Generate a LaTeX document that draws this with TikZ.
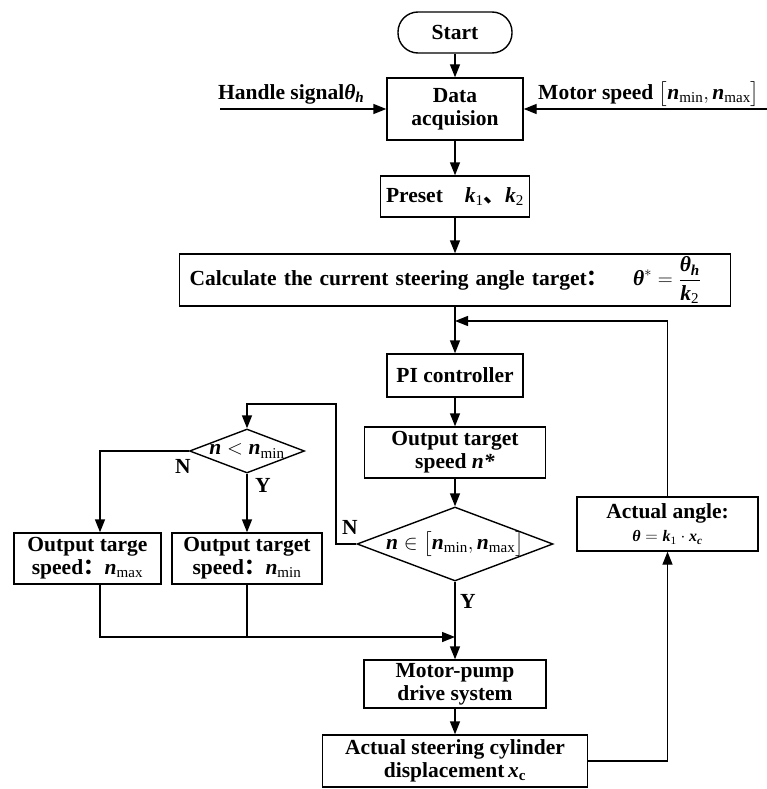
\documentclass[tikz,border=0pt]{standalone}
\usepackage{amsmath}
\usepackage{fontspec}
\setmainfont{Liberation Serif}
\newfontfamily\cjkfont{Noto Sans CJK SC}
\usetikzlibrary{arrows.meta,shapes.geometric}

\newcommand{\vn}{\textbf{\textit{n}}}
\newcommand{\vk}{\textbf{\textit{k}}}
\newcommand{\vth}{\textbf{\textit{θ}}}
\newcommand{\vx}{\textbf{\textit{x}}}
\newcommand{\subtxt}[1]{\textnormal{#1}}

\begin{document}
\begin{tikzpicture}[x=1pt, y=-1pt,
    box/.style={draw, line width=1.4pt, inner sep=0pt, align=center, font=\fontsize{21.5}{23}\selectfont\bfseries},
    decide/.style={draw, diamond, line width=1.4pt, inner sep=0pt, font=\fontsize{21.5}{23}\selectfont\bfseries},
    lbl/.style={inner sep=0pt, font=\fontsize{21.5}{23}\selectfont\bfseries},
    flow/.style={line width=1.4pt, -{Triangle[length=13pt,width=10pt]}},
    line/.style={line width=1.4pt}]
    \useasboundingbox (0,0) rectangle (767,789);

    % main column
    \node[box, rounded corners=20pt, minimum width=114pt, minimum height=41pt] (start) at (455,32.5) {Start};
    \node[box, minimum width=136pt, minimum height=62pt] (data) at (455,109) {Data\\acquision};
    \node[box, minimum width=149pt, minimum height=41pt] (preset) at (455,196.5) {Preset\hspace{22pt}$\vk_{\subtxt{1}}${\cjkfont 、}$\vk_{\subtxt{2}}$};
    \node[box, minimum width=551pt, minimum height=52pt, text width=531pt, align=left] (calc) at (455,280) {Calculate the current steering angle target{\cjkfont ：}\hspace{25pt}$\vth^{*}=\dfrac{\vth_{\textbf{\textit{h}}}}{\vk_{\subtxt{2}}}$};
    \node[box, minimum width=136pt, minimum height=43pt] (pi) at (455,375.5) {PI controller};
    \node[box, minimum width=181pt, minimum height=51pt] (outn) at (455,452.5) {Output target\\speed \textit{n*}};
    \node[decide, minimum width=196pt, minimum height=74pt] (inrange) at (455,544) {\makebox[0pt]{$\vn\in\big[\vn_{\subtxt{min}},\vn_{\subtxt{max}}\big]$}};
    \node[box, minimum width=182pt, minimum height=48pt] (pump) at (455,684) {Motor-pump\\drive system};
    \node[box, minimum width=265pt, minimum height=52pt] (cyl) at (455,761) {Actual steering cylinder\\displacement\,$\vx_{\textbf{c}}$};

    % left branch
    \node[decide, minimum width=115pt, minimum height=44pt] (low) at (247,451) {\makebox[0pt]{$\vn<\vn_{\subtxt{min}}$}};
    \node[box, minimum width=147pt, minimum height=51pt] (outmax) at (87.5,558.5) {Output targe\\speed{\cjkfont ：}$\vn_{\subtxt{max}}$};
    \node[box, minimum width=150pt, minimum height=51pt] (outmin) at (247,558.5) {Output target\\speed{\cjkfont ：}$\vn_{\subtxt{min}}$};

    % feedback
    \node[box, minimum width=181pt, minimum height=54pt] (angle) at (667.5,524) {Actual angle:\\{\fontsize{16}{18}\selectfont$\vth=\vk_{\subtxt{1}}\cdot\vx_{\textbf{\textit{c}}}$}};

    % inputs
    \coordinate (hdl) at (220,109);
    \coordinate (mot) at (767,109);
    \node[lbl, anchor=west] (hdltxt) at (218,94) {Handle signal$\vth_{\textbf{\textit{h}}}$};
    \node[lbl, anchor=west] (mottxt) at (538,94) {Motor speed $\big[\vn_{\subtxt{min}},\vn_{\subtxt{max}}\big]$};

    % yes / no
    \node[lbl] (nlow) at (183,466) {N};
    \node[lbl] (ylow) at (263,485) {Y};
    \node[lbl] (nrange) at (350,527) {N};
    \node[lbl] (yrange) at (468,601) {Y};

    \coordinate (fb) at (455,321);
    \coordinate (loopup) at (336,404);
    \coordinate (merge) at (455,637);

    \draw[flow] (start) -- (data);
    \draw[flow] (hdl) -- (data.west);
    \draw[flow] (mot) -- (data.east);
    \draw[flow] (data) -- (preset);
    \draw[flow] (preset) -- (calc);
    \draw[flow] (calc) -- (pi);
    \draw[flow] (pi) -- (outn);
    \draw[flow] (outn) -- (inrange);
    \draw[flow] (inrange.south) -- (pump.north);
    \draw[flow] (pump) -- (cyl);
    \draw[flow] (cyl.east) -| (angle.south);
    \draw[flow] (angle.north) |- (fb);
    \draw[flow] (inrange.west) -| (loopup) -| (low.north);
    \draw[flow] (low.west) -| ([xshift=12.5pt]outmax.north);
    \draw[flow] (low.south) -- (outmin.north);
    \draw[flow] ([xshift=12.5pt]outmax.south) |- (merge);
    \draw[line] (outmin.south) -- (outmin.south |- merge);
\end{tikzpicture}
\end{document}
